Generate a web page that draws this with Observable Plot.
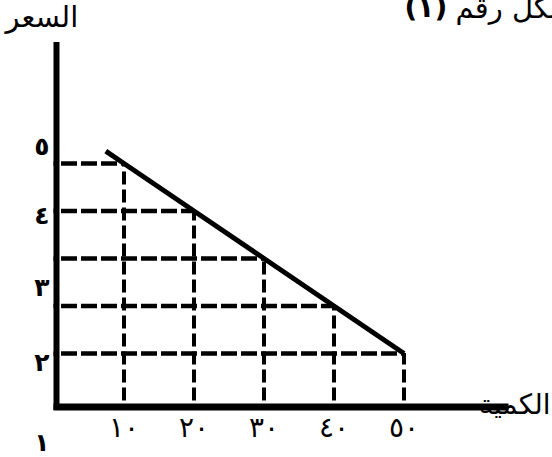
<!DOCTYPE html>
<html>
<head>
<meta charset="utf-8">
<script src="https://cdn.jsdelivr.net/npm/d3@7"></script>
<script src="https://cdn.jsdelivr.net/npm/@observablehq/plot@0.6"></script>
<style>
  html, body { margin: 0; padding: 0; background: white; }
  #chart { position: relative; width: 552px; height: 457px; overflow: hidden; }
  #chart svg { position: absolute; top: 0; left: 0; }
</style>
</head>
<body>
<div id="chart"></div>
<script>
// Demand schedule
const quantities = [10, 20, 30, 40, 50];
const prices = [5, 4, 3, 2, 1];
// demand line starts slightly above the first point
const lineStartQuantity = 7.4;
const lineStartPrice = 5.26;
// tick labels
const xTickValues = [10, 20, 30, 40, 50];
const yTickValues = [1, 2, 3, 4, 5];
// texts
const titleWords = "شكل رقم";
const titleNumber = "(١)";
const yTitle = "السعر";
const xTitle = "الكمية";

const toArabic = d => String(d).replace(/\d/g, c => "٠١٢٣٤٥٦٧٨٩"[c]);

const demand = quantities.map((q, i) => ({quantity: q, price: prices[i]}));
const lineData = [{quantity: lineStartQuantity, price: lineStartPrice}, ...demand];

const font = "DejaVu Sans";

const main = Plot.plot({
  width: 552,
  height: 457,
  margin: 0,
  x: {domain: [0, 50], range: [53.5, 403.5], axis: null},
  y: {domain: [0, 5], range: [400.5, 163], axis: null},
  style: {background: "white", fontFamily: font, color: "black"},
  marks: [
    // horizontal dashed guides
    Plot.ruleY(demand, {y: "price", x1: 0, x2: "quantity", stroke: "black", strokeWidth: 4.5, strokeDasharray: "16,4", strokeDashoffset: 12.5}),
    // vertical dashed guides
    Plot.ruleX(demand, {x: "quantity", y1: 0, y2: "price", stroke: "black", strokeWidth: 4, strokeDasharray: "13,5"}),
    // demand line
    Plot.line(lineData, {x: "quantity", y: "price", stroke: "black", strokeWidth: 5, strokeLinecap: "butt"}),
    // axes lines
    Plot.ruleY([0], {x1: 0, x2: 65, dy: 6, stroke: "black", strokeWidth: 7}),
    Plot.ruleX([0], {y1: -0.2, y2: 7.55, dx: 2.5, stroke: "black", strokeWidth: 6}),
    // x tick labels
    Plot.text(xTickValues, {x: d => d, y: 0, dy: 27, text: toArabic, fontSize: 28, fill: "black"}),
    // axis titles
    Plot.text([yTitle], {frameAnchor: "top-left", dx: 5, dy: 6, textAnchor: "start", lineAnchor: "top", fontSize: 29, fill: "black"}),
    Plot.text([xTitle], {frameAnchor: "top-right", dx: -2, dy: 394, textAnchor: "end", lineAnchor: "top", fontSize: 28, fill: "black"}),
    // chart title (cut at the right edge)
    Plot.text([titleWords], {frameAnchor: "top-right", dx: -97, dy: 8, textAnchor: "start", lineAnchor: "middle", fontSize: 29, fill: "black"}),
    Plot.text([titleNumber], {frameAnchor: "top-right", dx: -148, dy: 8, textAnchor: "start", lineAnchor: "middle", fontSize: 28, fontWeight: "bold", fill: "black"})
  ]
});

// y tick labels sit on their own (uneven) spacing in the original drawing
const labels = Plot.plot({
  width: 552,
  height: 457,
  marginLeft: 52,
  marginRight: 0,
  marginTop: 0,
  marginBottom: 0,
  y: {type: "pow", exponent: 0.88, domain: [1, 5], range: [442, 146]},
  style: {background: "transparent", fontFamily: font, color: "black"},
  marks: [
    Plot.axisY(yTickValues, {anchor: "left", tickSize: 0, tickPadding: 3, tickFormat: toArabic, fontSize: 25, fontWeight: "bold", label: null})
  ]
});

document.getElementById("chart").append(main, labels);
</script>
</body>
</html>
